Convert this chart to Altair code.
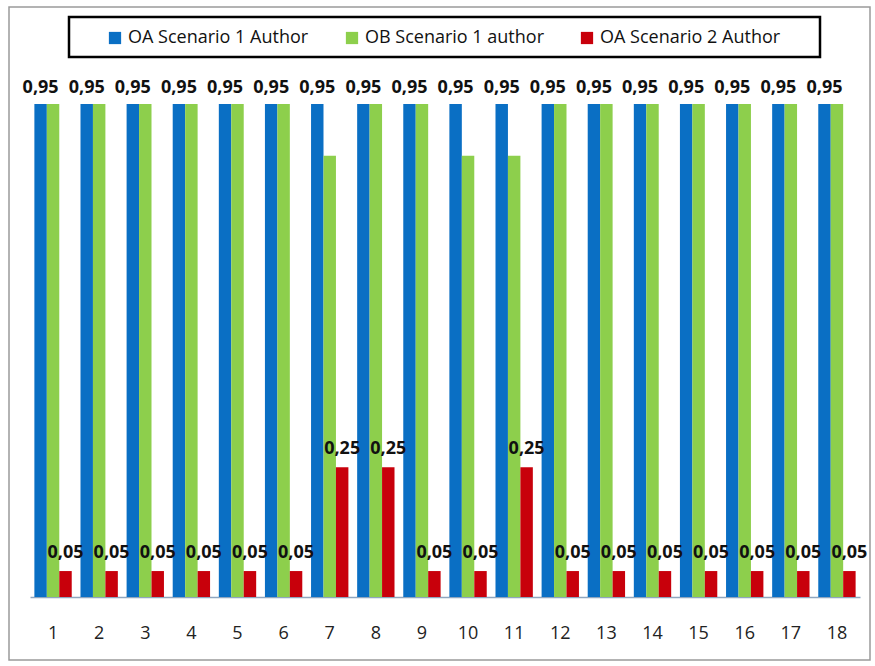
import altair as alt
import pandas as pd

# Category labels and the three series
groups = [str(i) for i in range(1, 19)]
series_names = ["OA Scenario 1 Author", "OB Scenario 1 author", "OA Scenario 2 Author"]
oa_s1 = [0.95, 0.95, 0.95, 0.95, 0.95, 0.95, 0.95, 0.95, 0.95,
         0.95, 0.95, 0.95, 0.95, 0.95, 0.95, 0.95, 0.95, 0.95]
ob_s1 = [0.95, 0.95, 0.95, 0.95, 0.95, 0.95, 0.85, 0.95, 0.95,
         0.85, 0.85, 0.95, 0.95, 0.95, 0.95, 0.95, 0.95, 0.95]
oa_s2 = [0.05, 0.05, 0.05, 0.05, 0.05, 0.05, 0.25, 0.25, 0.05,
         0.05, 0.25, 0.05, 0.05, 0.05, 0.05, 0.05, 0.05, 0.05]
colors = ["#0A6FC4", "#8DCF4C", "#C8000B"]

rows = []
for name, vals in zip(series_names, [oa_s1, ob_s1, oa_s2]):
    for g, v in zip(groups, vals):
        rows.append({"group": g, "series": name, "value": v})
df = pd.DataFrame(rows)

FONT = "Open Sans"

x_enc = alt.X("group:N", sort=groups,
              scale=alt.Scale(paddingInner=0.19, paddingOuter=0.095),
              axis=alt.Axis(title=None, labelAngle=0, ticks=False,
                            domainColor="#8FA6BF", domainWidth=1.5,
                            labelFont=FONT, labelFontSize=18,
                            labelColor="#222222", labelPadding=27))
xoff_enc = alt.XOffset("series:N", sort=series_names,
                       scale=alt.Scale(domain=series_names, paddingInner=0, paddingOuter=0))
y_enc = alt.Y("value:Q", scale=alt.Scale(domain=[0, 1], nice=False), axis=None)

bars = alt.Chart(df).mark_bar().encode(
    x=x_enc,
    xOffset=xoff_enc,
    y=y_enc,
    color=alt.Color("series:N", sort=series_names,
                    scale=alt.Scale(domain=series_names, range=colors),
                    legend=alt.Legend(title=None, orient="none", direction="horizontal",
                                      legendX=76, legendY=-49, columnPadding=34,
                                      symbolType="square", symbolSize=150,
                                      symbolStrokeWidth=0, labelFont=FONT,
                                      labelFontSize=18, labelColor="#111111",
                                      labelOffset=4, labelLimit=400, padding=0)),
)

label_base = alt.Chart(df).transform_calculate(
    label="replace(format(datum.value, '.2f'), '.', ',')"
)

blue_labels = label_base.transform_filter(
    alt.datum.series == series_names[0]
).mark_text(baseline="alphabetic", dy=-11, font=FONT, fontSize=18,
            fontWeight="bold", color="#111111").encode(
    x=alt.X("group:N", sort=groups), xOffset=xoff_enc, y=y_enc, text="label:N")

red_labels = label_base.transform_filter(
    alt.datum.series == series_names[2]
).mark_text(baseline="alphabetic", dy=-13, font=FONT, fontSize=18,
            fontWeight="bold", color="#111111").encode(
    x=alt.X("group:N", sort=groups), xOffset=xoff_enc, y=y_enc, text="label:N")

frame_df = pd.DataFrame({"k": [0]})

# Box around the legend
legend_box = alt.Chart(frame_df).mark_rect(fill=None, stroke="#000000", strokeWidth=2.5).encode(
    x=alt.value(39), x2=alt.value(790), y=alt.value(-61), y2=alt.value(-21))

# Outer border of the chart
outer_box = alt.Chart(frame_df).mark_rect(fill=None, stroke="#9A9A9A", strokeWidth=1.5).encode(
    x=alt.value(-21), x2=alt.value(840), y=alt.value(-71), y2=alt.value(582))

chart = alt.layer(outer_box, legend_box, bars, blue_labels, red_labels).properties(
    width=830, height=519,
    autosize=alt.AutoSizeParams(type="none"),
    padding={"left": 30, "top": 78, "right": 15, "bottom": 69},
    background="white",
).configure_view(stroke=None)

chart.save("out.html", embed_options={"renderer": "svg", "actions": False})
